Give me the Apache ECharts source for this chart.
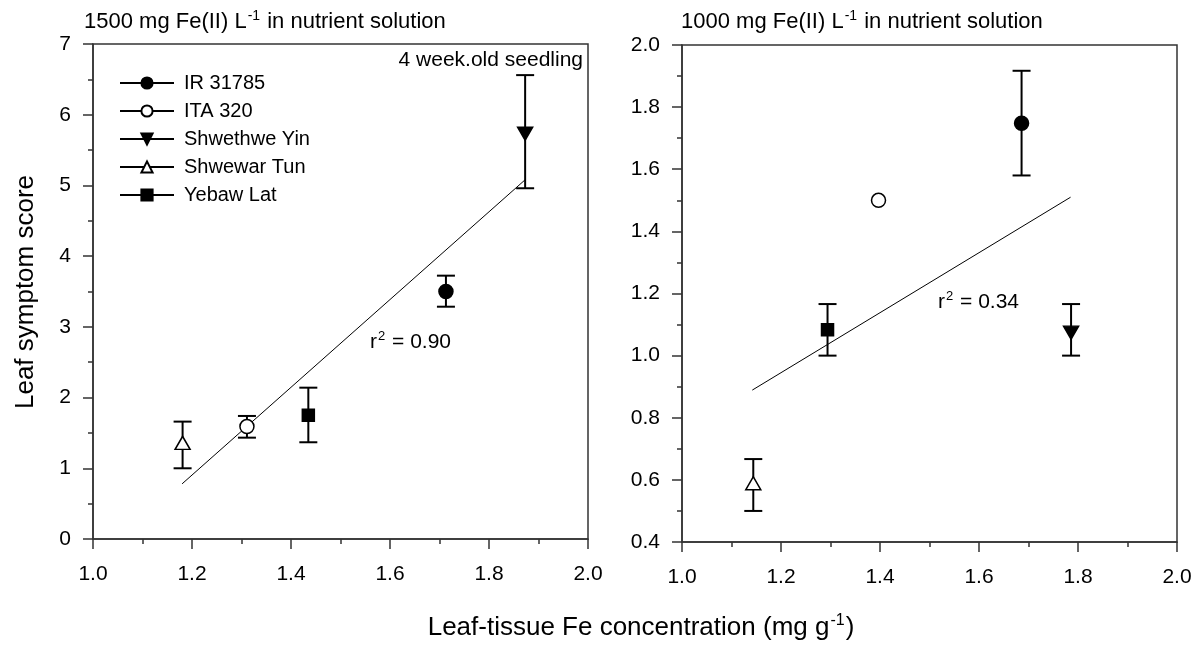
<!DOCTYPE html>
<html>
<head>
<meta charset="utf-8">
<script src="https://cdn.jsdelivr.net/npm/echarts@6/dist/echarts.min.js"></script>
<style>
    html, body { margin: 0; padding: 0; background: #fff; }
    #chart { width: 1204px; height: 649px; }
</style>
</head>
<body>
<div id="chart"></div>
<script>
// 品种
const varieties = ['IR 31785', 'ITA 320', 'Shwethwe Yin', 'Shwewar Tun', 'Yebaw Lat'];

// 左图 1500 mg Fe(II)
const feLeft = [1.713, 1.311, 1.873, 1.181, 1.435];
const scoreLeft = [3.50, 1.59, 5.73, 1.36, 1.75];
const lowLeft = [3.285, 1.433, 4.96, 1.00, 1.368];
const highLeft = [3.724, 1.74, 6.56, 1.66, 2.14];
const fitLeftX = [1.18, 1.873];
const fitLeftY = [0.78, 5.08];

// 右图 1000 mg Fe(II)
const feRight = [1.686, 1.397, 1.786, 1.144, 1.294];
const scoreRight = [1.748, 1.50, 1.074, 0.589, 1.083];
const lowRight = [1.58, null, 1.00, 0.50, 1.00];
const highRight = [1.917, null, 1.166, 0.667, 1.166];
const fitRightX = [1.142, 1.785];
const fitRightY = [0.889, 1.51];

// 刻度
const xTicks = [1.0, 1.2, 1.4, 1.6, 1.8, 2.0];
const yTicksLeft = [0, 1, 2, 3, 4, 5, 6, 7];
const yTicksRight = [0.4, 0.6, 0.8, 1.0, 1.2, 1.4, 1.6, 1.8, 2.0];

const FONT = "'Liberation Sans', Arial, sans-serif";
const AXIS_COLOR = '#333';

// 各品种的符号
const downTri = 'path://M0,0 L10,0 L5,9 Z';
const symbols = [
    { symbol: 'circle', size: 14, fill: '#000' },
    { symbol: 'circle', size: 14, fill: '#fff' },
    { symbol: downTri, size: [15, 13], fill: '#000' },
    { symbol: 'triangle', size: [15, 13], fill: '#fff' },
    { symbol: 'rect', size: 12, fill: '#000' }
];

function makeXAxis(gridIndex) {
    return {
        type: 'value', gridIndex: gridIndex,
        min: xTicks[0], max: xTicks[xTicks.length - 1], interval: 0.2,
        axisLine: { show: true, onZero: false, lineStyle: { color: AXIS_COLOR, width: 1.5 } },
        axisTick: { show: true, length: 10, lineStyle: { color: AXIS_COLOR, width: 1.5 } },
        minorTick: { show: true, splitNumber: 2, length: 5, lineStyle: { color: AXIS_COLOR, width: 1.5 } },
        splitLine: { show: false },
        axisLabel: { margin: 25, color: '#000', fontSize: 21, fontFamily: FONT, formatter: v => v.toFixed(1) }
    };
}

function makeYAxis(gridIndex, ticks, step, digits) {
    return {
        type: 'value', gridIndex: gridIndex,
        min: ticks[0], max: ticks[ticks.length - 1], interval: step,
        axisLine: { show: true, onZero: false, lineStyle: { color: AXIS_COLOR, width: 1.5 } },
        axisTick: { show: true, length: 10, lineStyle: { color: AXIS_COLOR, width: 1.5 } },
        minorTick: { show: true, splitNumber: 2, length: 5, lineStyle: { color: AXIS_COLOR, width: 1.5 } },
        splitLine: { show: false },
        axisLabel: { margin: 22, color: '#000', fontSize: 21, fontFamily: FONT, formatter: v => v.toFixed(digits) }
    };
}

// 误差线
function errorSeries(gridIndex, xs, lows, highs) {
    const data = [];
    for (let i = 0; i < xs.length; i++) {
        if (lows[i] == null) continue;
        data.push([xs[i], lows[i], highs[i]]);
    }
    return {
        type: 'custom', xAxisIndex: gridIndex, yAxisIndex: gridIndex, z: 2,
        silent: true,
        encode: { x: 0, y: [1, 2] },
        data: data,
        renderItem: function (params, api) {
            const lo = api.coord([api.value(0), api.value(1)]);
            const hi = api.coord([api.value(0), api.value(2)]);
            const w = 9;
            const style = { stroke: '#000', lineWidth: 2 };
            return {
                type: 'group',
                children: [
                    { type: 'line', shape: { x1: lo[0], y1: lo[1], x2: hi[0], y2: hi[1] }, style: style },
                    { type: 'line', shape: { x1: lo[0] - w, y1: lo[1], x2: lo[0] + w, y2: lo[1] }, style: style },
                    { type: 'line', shape: { x1: hi[0] - w, y1: hi[1], x2: hi[0] + w, y2: hi[1] }, style: style }
                ]
            };
        }
    };
}

// 数据点
function pointSeries(gridIndex, xs, ys) {
    return varieties.map((name, i) => ({
        name: name,
        type: 'line', xAxisIndex: gridIndex, yAxisIndex: gridIndex, z: 5,
        data: [[xs[i], ys[i]]],
        symbol: symbols[i].symbol,
        symbolSize: symbols[i].size,
        showSymbol: true, showAllSymbol: true,
        lineStyle: { color: '#000', width: 1.5 },
        itemStyle: { color: symbols[i].fill, borderColor: '#000', borderWidth: 1.5 },
        emphasis: { disabled: true },
        animation: false
    }));
}

// 回归线
function fitSeries(gridIndex, xs, ys) {
    return {
        type: 'line', xAxisIndex: gridIndex, yAxisIndex: gridIndex, z: 3,
        data: xs.map((x, i) => [x, ys[i]]),
        symbol: 'none',
        lineStyle: { color: '#000', width: 1 },
        silent: true
    };
}

// 带上标的文字
function supText(x, y, text, size, align) {
    const sup = Math.round(size * 0.62);
    return {
        type: 'text', x: x, y: y,
        style: {
            text: text,
            fill: '#000',
            font: size + 'px ' + FONT,
            align: align || 'left',
            verticalAlign: 'middle',
            rich: {
                n: { fontSize: size, fontFamily: FONT, fill: '#000' },
                s: { fontSize: sup, lineHeight: sup, fontFamily: FONT, fill: '#000', padding: [0, 1, Math.round(size * 0.55), 1] }
            }
        }
    };
}

const chart = echarts.init(document.getElementById('chart'));
chart.setOption({
    animation: false,
    backgroundColor: '#fff',
    grid: [
        { left: 93, top: 44, width: 495, height: 495, show: true, borderColor: AXIS_COLOR, borderWidth: 1.5 },
        { left: 682, top: 45, width: 495, height: 497, show: true, borderColor: AXIS_COLOR, borderWidth: 1.5 }
    ],
    xAxis: [makeXAxis(0), makeXAxis(1)],
    yAxis: [makeYAxis(0, yTicksLeft, 1, 0), makeYAxis(1, yTicksRight, 0.2, 1)],
    legend: {
        data: varieties,
        orient: 'vertical',
        left: 114, top: 68,
        itemWidth: 54, itemHeight: 14, itemGap: 8,
        textStyle: { fontSize: 20, fontFamily: FONT, color: '#000', padding: [0, 0, 0, 5] },
        selectedMode: false
    },
    graphic: [
        supText(84, 22, '{n|1500 mg Fe(II) L}{s|-1}{n| in nutrient solution}', 22),
        supText(681, 22, '{n|1000 mg Fe(II) L}{s|-1}{n| in nutrient solution}', 22),
        supText(583, 60, '{n|4 week.old seedling}', 21, 'right'),
        supText(370, 342, '{n|r}{s|2}{n| = 0.90}', 21),
        supText(938, 302, '{n|r}{s|2}{n| = 0.34}', 21),
        supText(641, 628, '{n|Leaf-tissue Fe concentration (mg g}{s|-1}{n|)}', 26, 'center'),
        {
            type: 'text', x: 26, y: 292, rotation: Math.PI / 2,
            style: { text: 'Leaf symptom score', fill: '#000', font: '26px ' + FONT, align: 'center', verticalAlign: 'middle' }
        }
    ],
    series: [
        errorSeries(0, feLeft, lowLeft, highLeft),
        errorSeries(1, feRight, lowRight, highRight),
        fitSeries(0, fitLeftX, fitLeftY),
        fitSeries(1, fitRightX, fitRightY)
    ].concat(pointSeries(0, feLeft, scoreLeft), pointSeries(1, feRight, scoreRight))
});
</script>
</body>
</html>
